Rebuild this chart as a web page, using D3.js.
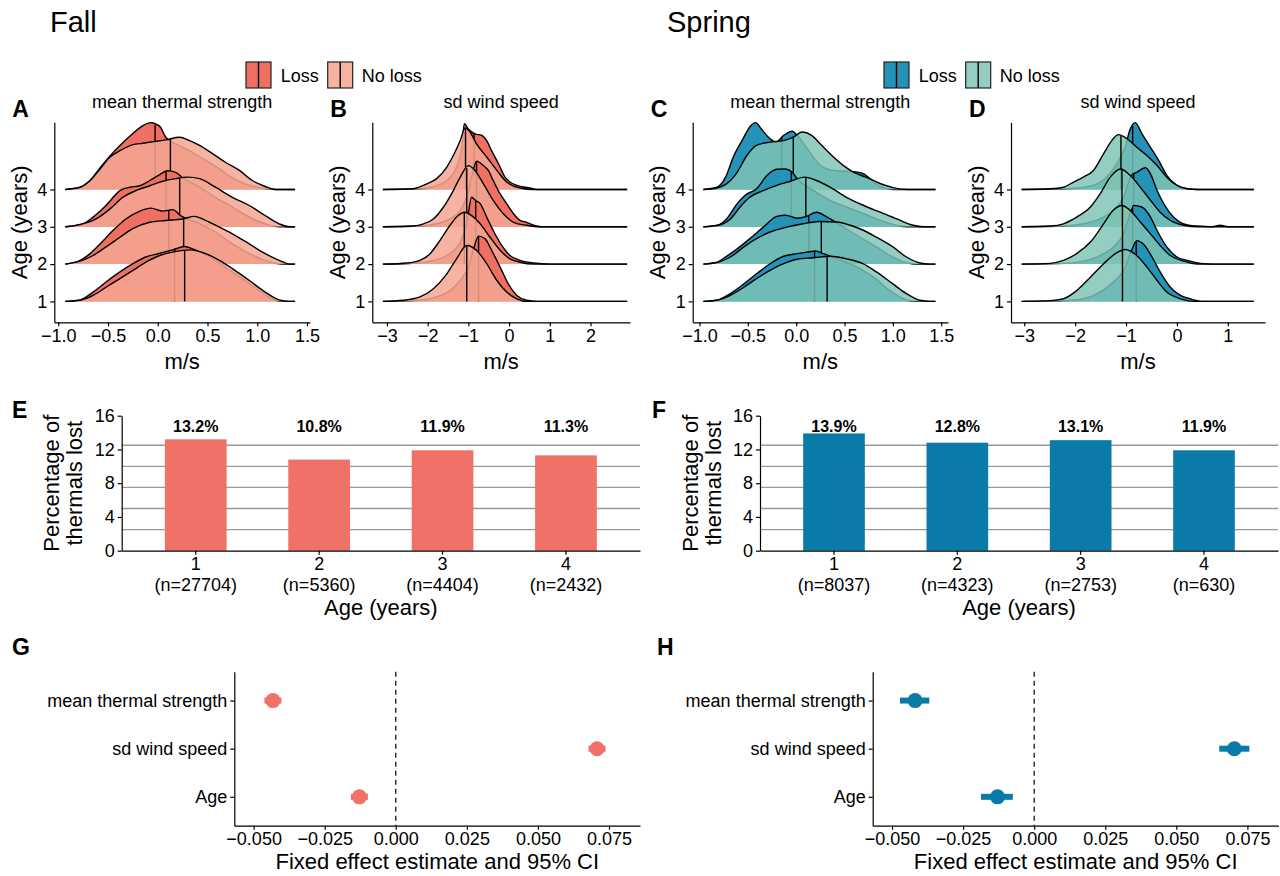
<!DOCTYPE html>
<html>
<head>
<meta charset="utf-8">
<script src="https://cdn.jsdelivr.net/npm/d3@7"></script>
<style>
  body { margin: 0; background: #fff; }
  text { font-family: "Liberation Sans", Arial, sans-serif; fill: #000; }
</style>
</head>
<body>
<svg id="fig" width="1280" height="876"></svg>
<script>
// ---- data -------------------------------------------------------------
const ages = [1, 2, 3, 4];
const groups = ["Loss", "No loss"];

// density curves: [m/s, ridge height], one list per age (1..4)
const fallThermLoss = [
  [[-0.93,0],[-0.78,.04],[-0.65,.25],[-0.52,.52],[-0.38,.79],[-0.25,1.01],[-0.12,1.19],[0.02,1.29],[0.15,1.38],[0.27,1.47],[0.35,1.41],[0.52,1.19],[0.68,.92],[0.85,.61],[1.02,.29],[1.15,.07],[1.25,0],[1.38,0]],
  [[-0.93,0],[-0.78,.1],[-0.68,.28],[-0.58,.54],[-0.45,.9],[-0.32,1.21],[-0.18,1.42],[-0.07,1.5],[0.05,1.42],[0.15,1.46],[0.23,1.3],[0.42,1.08],[0.58,.86],[0.75,.54],[0.92,.28],[1.08,.1],[1.25,0],[1.38,0]],
  [[-0.93,0],[-0.75,.08],[-0.65,.26],[-0.52,.57],[-0.38,.97],[-0.28,1.06],[-0.18,1.1],[-0.08,1.24],[0.02,1.4],[0.1,1.5],[0.18,1.46],[0.25,1.31],[0.42,1.06],[0.58,.79],[0.75,.53],[0.92,.26],[1.08,.08],[1.22,0],[1.38,0]],
  [[-0.93,0],[-0.78,.06],[-0.68,.24],[-0.58,.58],[-0.48,.9],[-0.38,1.18],[-0.25,1.5],[-0.15,1.71],[-0.07,1.79],[0.02,1.69],[0.08,1.4],[0.18,1.22],[0.32,1.04],[0.48,.78],[0.62,.55],[0.75,.31],[0.88,.15],[1.05,.04],[1.18,0],[1.38,0]]
];
const fallThermNoLoss = [
  [[-0.93,0],[-0.78,.03],[-0.65,.16],[-0.52,.38],[-0.38,.61],[-0.25,.83],[-0.12,1.05],[0.02,1.23],[0.15,1.32],[0.33,1.38],[0.48,1.28],[0.62,1.1],[0.75,.88],[0.92,.56],[1.08,.25],[1.22,.04],[1.32,0],[1.38,0]],
  [[-0.93,0],[-0.78,.08],[-0.65,.23],[-0.52,.46],[-0.38,.72],[-0.25,.95],[-0.08,1.12],[0.08,1.17],[0.25,1.21],[0.37,1.28],[0.48,1.17],[0.62,.99],[0.75,.81],[0.92,.54],[1.08,.28],[1.22,.1],[1.32,0],[1.38,0]],
  [[-0.93,0],[-0.78,.06],[-0.62,.21],[-0.48,.48],[-0.35,.79],[-0.22,.97],[-0.08,1.1],[0.05,1.22],[0.18,1.29],[0.3,1.33],[0.42,1.29],[0.58,1.06],[0.75,.79],[0.92,.57],[1.08,.3],[1.22,.08],[1.32,0],[1.38,0]],
  [[-0.93,0],[-0.78,.06],[-0.68,.24],[-0.58,.55],[-0.48,.87],[-0.38,1.04],[-0.25,1.2],[-0.15,1.24],[-0.02,1.29],[0.08,1.33],[0.22,1.4],[0.32,1.31],[0.42,1.18],[0.55,.96],[0.68,.73],[0.82,.51],[0.95,.24],[1.08,.08],[1.18,0],[1.38,0]]
];
const fallThermMedLoss = [0.17, 0.11, 0.083, -0.027];
const fallThermMedNoLoss = [0.27, 0.26, 0.22, 0.127];

const fallWindLoss = [
  [[-3.1,0],[-2.19,.03],[-1.78,.12],[-1.45,.29],[-1.2,.56],[-1.0,.92],[-0.88,1.37],[-0.75,1.75],[-0.59,1.68],[-0.43,1.37],[-0.22,.92],[-0.02,.47],[0.19,.16],[0.43,.03],[0.68,0],[2.9,0]],
  [[-3.1,0],[-2.2,.03],[-1.86,.1],[-1.53,.23],[-1.2,.59],[-1.04,1.08],[-0.92,1.79],[-0.82,1.7],[-0.71,1.62],[-0.55,1.26],[-0.39,.9],[-0.18,.5],[0.02,.23],[0.27,.1],[0.6,.03],[1.0,0],[2.9,0]],
  [[-3.1,0],[-2.2,.02],[-1.78,.08],[-1.45,.21],[-1.2,.44],[-1.04,.79],[-0.92,1.33],[-0.8,1.76],[-0.63,1.64],[-0.51,1.51],[-0.39,1.24],[-0.22,.88],[-0.06,.62],[0.11,.35],[0.27,.17],[0.43,.12],[0.6,.04],[0.8,0],[2.9,0]],
  [[-3.1,0],[-2.19,.02],[-1.78,.1],[-1.53,.24],[-1.29,.6],[-1.16,1.13],[-1.1,1.76],[-1.0,1.62],[-0.84,1.49],[-0.67,1.45],[-0.55,1.31],[-0.43,1.04],[-0.26,.69],[-0.1,.33],[0.02,.2],[0.19,.11],[0.52,.04],[0.68,0],[2.9,0]]
];
const fallWindNoLoss = [
  [[-3.1,0],[-2.6,.03],[-2.19,.12],[-1.86,.34],[-1.53,.74],[-1.29,1.14],[-1.04,1.5],[-0.8,1.37],[-0.55,1.01],[-0.3,.56],[-0.06,.25],[0.19,.07],[0.43,0],[2.9,0]],
  [[-3.1,0],[-2.5,.03],[-2.19,.1],[-1.94,.28],[-1.7,.63],[-1.45,1.04],[-1.25,1.3],[-1.1,1.39],[-0.92,1.3],[-0.71,1.08],[-0.47,.72],[-0.22,.37],[0.02,.14],[0.27,.05],[0.6,0],[2.9,0]],
  [[-3.1,0],[-2.35,.02],[-2.1,.08],[-1.86,.21],[-1.61,.53],[-1.37,.97],[-1.2,1.33],[-1.0,1.64],[-0.84,1.51],[-0.63,1.15],[-0.39,.71],[-0.14,.35],[0.11,.12],[0.43,.04],[0.76,0],[2.9,0]],
  [[-3.1,0],[-2.35,.02],[-2.02,.15],[-1.78,.29],[-1.53,.6],[-1.37,.91],[-1.2,1.31],[-1.08,1.65],[-0.96,1.54],[-0.8,1.22],[-0.55,.87],[-0.3,.51],[-0.06,.2],[0.27,.04],[0.6,0],[2.9,0]]
];
const fallWindMedLoss = [-0.75, -0.82, -0.8, -0.86];
const fallWindMedNoLoss = [-1.04, -1.1, -1.04, -1.07];

const springThermLoss = [
  [[-0.96,0],[-0.82,.03],[-0.68,.21],[-0.54,.47],[-0.41,.74],[-0.27,1.01],[-0.13,1.21],[0.01,1.28],[0.11,1.32],[0.2,1.35],[0.28,1.28],[0.46,1.1],[0.63,.92],[0.8,.65],[0.97,.29],[1.14,.04],[1.24,0],[1.44,0]],
  [[-0.96,0],[-0.82,.05],[-0.72,.21],[-0.61,.41],[-0.48,.68],[-0.34,.99],[-0.2,1.28],[-0.11,1.31],[0.01,1.23],[0.11,1.28],[0.21,1.39],[0.32,1.26],[0.49,.99],[0.66,.72],[0.83,.46],[1.0,.19],[1.14,.04],[1.24,0],[1.44,0]],
  [[-0.96,0],[-0.82,.04],[-0.72,.21],[-0.61,.62],[-0.53,.84],[-0.41,1.02],[-0.3,1.38],[-0.2,1.54],[-0.11,1.55],[-0.04,1.46],[0.01,1.29],[0.18,.97],[0.35,.71],[0.52,.53],[0.7,.35],[0.87,.17],[1.04,.04],[1.14,0],[1.44,0]],
  [[-0.96,0],[-0.82,.06],[-0.73,.33],[-0.65,.87],[-0.56,1.31],[-0.47,1.71],[-0.42,1.79],[-0.36,1.62],[-0.27,1.36],[-0.21,1.27],[-0.13,1.45],[-0.04,1.56],[0.01,1.45],[0.14,1.0],[0.25,.65],[0.39,.51],[0.52,.49],[0.62,.47],[0.7,.42],[0.78,.25],[0.87,.08],[1.0,0],[1.44,0]]
];
const springThermNoLoss = [
  [[-0.96,0],[-0.82,.03],[-0.68,.16],[-0.54,.38],[-0.41,.61],[-0.27,.83],[-0.13,1.01],[0.01,1.13],[0.18,1.17],[0.35,1.21],[0.52,1.14],[0.69,1.01],[0.83,.79],[1.0,.47],[1.14,.21],[1.28,.03],[1.38,0],[1.44,0]],
  [[-0.96,0],[-0.82,.04],[-0.68,.19],[-0.54,.46],[-0.41,.68],[-0.27,.86],[-0.1,.99],[0.07,1.08],[0.24,1.14],[0.42,1.13],[0.56,1.04],[0.7,.9],[0.83,.72],[1.0,.46],[1.14,.19],[1.28,.03],[1.38,0],[1.44,0]],
  [[-0.96,0],[-0.82,.03],[-0.68,.21],[-0.58,.53],[-0.48,.79],[-0.34,.97],[-0.2,1.11],[-0.06,1.22],[0.09,1.33],[0.21,1.24],[0.35,1.06],[0.52,.79],[0.7,.57],[0.87,.39],[1.04,.21],[1.21,.04],[1.31,0],[1.44,0]],
  [[-0.96,0],[-0.82,.04],[-0.72,.15],[-0.61,.46],[-0.51,.91],[-0.41,1.18],[-0.27,1.27],[-0.13,1.31],[-0.03,1.4],[0.06,1.54],[0.16,1.45],[0.25,1.22],[0.35,.96],[0.49,.64],[0.6,.45],[0.72,.33],[0.85,.18],[1.0,.05],[1.15,0],[1.44,0]]
];
const springThermMedLoss = [0.19, 0.13, -0.05, -0.15];
const springThermMedNoLoss = [0.32, 0.26, 0.1, -0.03];

const springWindLoss = [
  [[-3.05,0],[-2.2,.02],[-1.84,.07],[-1.51,.25],[-1.25,.52],[-1.05,.83],[-0.89,1.37],[-0.79,1.63],[-0.66,1.54],[-0.49,1.19],[-0.33,.79],[-0.13,.38],[0.07,.16],[0.26,.07],[0.52,0],[1.51,0]],
  [[-3.05,0],[-2.2,.02],[-1.84,.08],[-1.51,.23],[-1.25,.46],[-1.05,.81],[-0.92,1.35],[-0.85,1.57],[-0.69,1.53],[-0.52,1.26],[-0.39,.9],[-0.2,.46],[0,.19],[0.2,.1],[0.46,.02],[0.72,0],[1.51,0]],
  [[-3.05,0],[-2.2,.02],[-1.84,.08],[-1.51,.21],[-1.25,.44],[-1.05,.79],[-0.89,1.38],[-0.79,1.46],[-0.62,1.58],[-0.52,1.42],[-0.39,.97],[-0.26,.62],[-0.07,.26],[0.13,.08],[0.4,.02],[0.7,0],[0.85,.04],[1.0,0],[1.51,0]],
  [[-3.05,0],[-2.2,.02],[-1.84,.06],[-1.57,.15],[-1.38,.33],[-1.18,.69],[-1.02,1.13],[-0.92,1.61],[-0.82,1.79],[-0.69,1.5],[-0.52,1.13],[-0.36,.78],[-0.2,.38],[0,.11],[0.2,.02],[0.4,0],[1.51,0]]
];
const springWindNoLoss = [
  [[-3.05,0],[-2.49,.02],[-2.23,.07],[-1.97,.29],[-1.7,.65],[-1.44,1.01],[-1.21,1.28],[-1.02,1.39],[-0.79,1.23],[-0.59,.92],[-0.39,.56],[-0.2,.25],[0.07,.07],[0.33,0],[1.51,0]],
  [[-3.05,0],[-2.49,.02],[-2.23,.1],[-1.97,.28],[-1.7,.59],[-1.44,1.08],[-1.25,1.44],[-1.08,1.57],[-0.92,1.44],[-0.72,1.13],[-0.52,.81],[-0.33,.5],[-0.13,.23],[0.13,.08],[0.4,0],[1.51,0]],
  [[-3.05,0],[-2.49,.02],[-2.23,.08],[-1.97,.26],[-1.7,.53],[-1.51,.88],[-1.31,1.33],[-1.11,1.55],[-0.92,1.38],[-0.72,1.06],[-0.52,.71],[-0.33,.39],[-0.13,.17],[0.13,.04],[0.4,0],[1.51,0]],
  [[-3.05,0],[-2.49,.02],[-2.23,.06],[-2.03,.2],[-1.84,.33],[-1.64,.51],[-1.44,.96],[-1.28,1.31],[-1.15,1.47],[-0.98,1.36],[-0.79,1.13],[-0.59,.91],[-0.39,.64],[-0.2,.33],[0,.11],[0.2,.02],[0.4,0],[1.51,0]]
];
const springWindMedLoss = [-0.8, -0.87, -0.85, -0.87];
const springWindMedNoLoss = [-1.07, -1.07, -1.08, -1.1];

// percentage of thermals lost per age
const fallPct = [13.2, 10.8, 11.9, 11.3];
const fallN = [27704, 5360, 4404, 2432];
const springPct = [13.9, 12.8, 13.1, 11.9];
const springN = [8037, 4323, 2753, 630];
const pctTicks = [0, 4, 8, 12, 16];
const pctGrid = [2.5, 5, 7.5, 10, 12.5];

// fixed effects
const terms = ["mean thermal strength", "sd wind speed", "Age"];
const fallEst = [-0.0432, 0.0708, -0.0128];
const fallLo = [-0.0462, 0.0678, -0.0158];
const fallHi = [-0.0402, 0.0738, -0.0098];
const springEst = [-0.0419, 0.0704, -0.0129];
const springLo = [-0.0472, 0.0651, -0.0187];
const springHi = [-0.0369, 0.0757, -0.0075];
const effTicks = [-0.05, -0.025, 0, 0.025, 0.05, 0.075];

// ---- styling ------------------------------------------------------------
const FALL = { loss: "#EF6F63", noLoss: "#F4A793", alpha: 0.86, solid: "#F07167" };
const SPRING = { loss: "#2592B8", noLoss: "#7EC3B5", alpha: 0.83, solid: "#0A7BA8" };
const TICK_FS = 18, TITLE_FS = 22, LETTER_FS = 23;

const svg = d3.select("#fig");

function label(x, y, str, size, opts) {
  opts = opts || {};
  const t = svg.append("text")
    .attr("x", x).attr("y", y)
    .attr("font-size", size)
    .attr("text-anchor", opts.anchor || "start")
    .attr("font-weight", opts.bold ? "bold" : null)
    .text(str);
  return t;
}

function vlabel(cx, cy, str, size) {
  svg.append("text")
    .attr("transform", "translate(" + cx + "," + cy + ") rotate(-90)")
    .attr("dy", "0.35em")
    .attr("font-size", size)
    .attr("text-anchor", "middle")
    .text(str);
}

function styleAxis(sel) {
  sel.selectAll("path.domain").attr("stroke", "#000").attr("stroke-width", 1.2);
  sel.selectAll(".tick line").attr("stroke", "#000").attr("stroke-width", 1.2);
  sel.selectAll(".tick text")
    .attr("font-size", TICK_FS)
    .attr("font-family", '"Liberation Sans", Arial, sans-serif')
    .attr("fill", "#000");
}

// height of a density list at value v (linear between read points)
function heightAt(pts, v) {
  for (let i = 1; i < pts.length; i++) {
    if (v <= pts[i][0]) {
      const a = pts[i - 1], b = pts[i];
      return a[1] + (b[1] - a[1]) * (v - a[0]) / (b[0] - a[0]);
    }
  }
  return 0;
}

// ---- ridgeline panels -----------------------------------------------------
function ridgePanel(p) {
  const x = d3.scaleLinear().domain(p.xDomain).range(p.xRange);
  const y = d3.scaleLinear().domain([0.44, 5.8]).range([322.3, 122.3]);
  const g = svg.append("g");

  for (let a = 4; a >= 1; a--) {
    const layers = [
      { dens: p.loss[a - 1], med: p.medLoss[a - 1], fill: p.col.loss, op: 1 },
      { dens: p.noLoss[a - 1], med: p.medNoLoss[a - 1], fill: p.col.noLoss, op: p.col.alpha }
    ];
    layers.forEach(function (L) {
      const area = d3.area()
        .x(function (d) { return x(d[0]); })
        .y0(y(a))
        .y1(function (d) { return y(a + d[1]); })
        .curve(d3.curveMonotoneX);
      const line = d3.line()
        .x(function (d) { return x(d[0]); })
        .y(function (d) { return y(a + d[1]); })
        .curve(d3.curveMonotoneX);

      g.append("path").attr("d", area(L.dens))
        .attr("fill", L.fill).attr("fill-opacity", L.op);
      g.append("line")
        .attr("x1", x(L.med)).attr("x2", x(L.med))
        .attr("y1", y(a)).attr("y2", y(a + heightAt(L.dens, L.med)))
        .attr("stroke", "#000").attr("stroke-width", 1.4);
      g.append("path").attr("d", line(L.dens))
        .attr("fill", "none").attr("stroke", "#000").attr("stroke-width", 1.4)
        .attr("stroke-linejoin", "round");
    });
  }

  svg.append("g").attr("transform", "translate(0,322.3)")
    .call(d3.axisBottom(x).tickValues(p.ticks).tickFormat(p.fmt)
      .tickSize(4).tickPadding(3).tickSizeOuter(0))
    .call(styleAxis);
  svg.append("g").attr("transform", "translate(" + p.xRange[0] + ",0)")
    .call(d3.axisLeft(y).tickValues(ages).tickFormat(d3.format("d"))
      .tickSize(4).tickPadding(3).tickSizeOuter(0))
    .call(styleAxis);

  const cx = (p.xRange[0] + p.xRange[1]) / 2;
  label(cx, 108, p.title, 18, { anchor: "middle" });
  label(cx, 369, "m/s", TITLE_FS, { anchor: "middle" });
  vlabel(p.xRange[0] - 35, 222.3, "Age (years)", TITLE_FS);
  label(p.xRange[0] - 42, 117, p.letter, LETTER_FS, { bold: true });
}

ridgePanel({ letter: "A", title: "mean thermal strength", xDomain: [-1.04, 1.53], xRange: [54.3, 310],
  ticks: [-1, -0.5, 0, 0.5, 1, 1.5], fmt: d3.format(".1f"),
  loss: fallThermLoss, noLoss: fallThermNoLoss, medLoss: fallThermMedLoss, medNoLoss: fallThermMedNoLoss, col: FALL });
ridgePanel({ letter: "B", title: "sd wind speed", xDomain: [-3.36, 2.97], xRange: [372.3, 630],
  ticks: [-3, -2, -1, 0, 1, 2], fmt: d3.format("d"),
  loss: fallWindLoss, noLoss: fallWindNoLoss, medLoss: fallWindMedLoss, medNoLoss: fallWindMedNoLoss, col: FALL });
ridgePanel({ letter: "C", title: "mean thermal strength", xDomain: [-1.07, 1.57], xRange: [692.7, 948],
  ticks: [-1, -0.5, 0, 0.5, 1, 1.5], fmt: d3.format(".1f"),
  loss: springThermLoss, noLoss: springThermNoLoss, medLoss: springThermMedLoss, medNoLoss: springThermMedNoLoss, col: SPRING });
ridgePanel({ letter: "D", title: "sd wind speed", xDomain: [-3.26, 1.73], xRange: [1011, 1265],
  ticks: [-3, -2, -1, 0, 1], fmt: d3.format("d"),
  loss: springWindLoss, noLoss: springWindNoLoss, medLoss: springWindMedLoss, medNoLoss: springWindMedNoLoss, col: SPRING });

// ---- season titles and legends ---------------------------------------------
label(50, 32, "Fall", 29);
label(667, 32, "Spring", 29);

function legend(x0, col) {
  const keys = [
    { name: groups[0], fill: col.loss, op: 1, kx: x0, tx: x0 + 34.7 },
    { name: groups[1], fill: col.noLoss, op: col.alpha, kx: x0 + 81.7, tx: x0 + 115.7 }
  ];
  keys.forEach(function (k) {
    svg.append("rect").attr("x", k.kx).attr("y", 62).attr("width", 25).attr("height", 26)
      .attr("fill", k.fill).attr("fill-opacity", k.op)
      .attr("stroke", "#222").attr("stroke-width", 1.2);
    svg.append("line").attr("x1", k.kx + 12.5).attr("x2", k.kx + 12.5)
      .attr("y1", 62).attr("y2", 88).attr("stroke", "#000").attr("stroke-width", 1.4);
    label(k.tx, 81.5, k.name, 18);
  });
}
legend(246, FALL);
legend(884, SPRING);

// ---- bar panels -------------------------------------------------------------
function barPanel(p) {
  const x = d3.scaleBand().domain(ages).range([p.x0, p.x1]).paddingInner(0.5).paddingOuter(0.35);
  const y = d3.scaleLinear().domain([0, 16]).range([550.7, 415.7]);

  svg.append("g").selectAll("line").data(pctGrid).join("line")
    .attr("x1", p.x0).attr("x2", p.x1)
    .attr("y1", function (d) { return y(d); }).attr("y2", function (d) { return y(d); })
    .attr("stroke", "#999").attr("stroke-width", 1.4);

  svg.append("g").selectAll("rect").data(p.pct).join("rect")
    .attr("x", function (d, i) { return x(ages[i]); })
    .attr("width", x.bandwidth())
    .attr("y", function (d) { return y(d); })
    .attr("height", function (d) { return y(0) - y(d); })
    .attr("fill", p.col.solid);

  svg.append("g").selectAll("text").data(p.pct).join("text")
    .attr("x", function (d, i) { return x(ages[i]) + x.bandwidth() / 2; })
    .attr("y", y(14.04))
    .attr("text-anchor", "middle").attr("font-size", 16).attr("font-weight", "bold")
    .text(function (d) { return d.toFixed(1) + "%"; });

  const ax = svg.append("g").attr("transform", "translate(0,550.7)")
    .call(d3.axisBottom(x).tickSize(4).tickPadding(3).tickSizeOuter(0))
    .call(styleAxis);
  ax.selectAll(".tick text").text(null).each(function (d, i) {
    const t = d3.select(this);
    t.append("tspan").attr("x", 0).text(d);
    t.append("tspan").attr("x", 0).attr("dy", "1.15em").text("(n=" + p.n[i] + ")");
  });

  svg.append("g").attr("transform", "translate(" + p.x0 + ",0)")
    .call(d3.axisLeft(y).tickValues(pctTicks).tickSize(4).tickPadding(3).tickSizeOuter(0))
    .call(styleAxis);

  label((p.x0 + p.x1) / 2, 615, "Age (years)", TITLE_FS, { anchor: "middle" });
  vlabel(p.x0 - 70, 483.2, "Percentage of", TITLE_FS);
  vlabel(p.x0 - 47, 483.2, "thermals lost", TITLE_FS);
  label(p.lx, 418, p.letter, LETTER_FS, { bold: true });
}

barPanel({ letter: "E", lx: 12, x0: 121.7, x1: 640, pct: fallPct, n: fallN, col: FALL });
barPanel({ letter: "F", lx: 652, x0: 760, x1: 1278, pct: springPct, n: springN, col: SPRING });

// ---- fixed effect panels ------------------------------------------------------
function effectPanel(p) {
  const x = d3.scaleLinear().domain([-0.0568, 0.0859]).range([p.x0, p.x0 + 405.7]);
  const y = d3.scalePoint().domain(terms).range([671.7, 825.7]).padding(0.6);

  svg.append("line")
    .attr("x1", x(0)).attr("x2", x(0)).attr("y1", 671.7).attr("y2", 825.7)
    .attr("stroke", "#000").attr("stroke-width", 1.2).attr("stroke-dasharray", "5,4");

  svg.append("g").selectAll("line").data(terms).join("line")
    .attr("x1", function (d, i) { return x(p.lo[i]); })
    .attr("x2", function (d, i) { return x(p.hi[i]); })
    .attr("y1", function (d) { return y(d); }).attr("y2", function (d) { return y(d); })
    .attr("stroke", p.col.solid).attr("stroke-width", 6);

  svg.append("g").selectAll("circle").data(terms).join("circle")
    .attr("cx", function (d, i) { return x(p.est[i]); })
    .attr("cy", function (d) { return y(d); })
    .attr("r", 7.5).attr("fill", p.col.solid);

  svg.append("g").attr("transform", "translate(0,825.7)")
    .call(d3.axisBottom(x).tickValues(effTicks).tickFormat(d3.format(".3f"))
      .tickSize(4).tickPadding(3).tickSizeOuter(0))
    .call(styleAxis);
  svg.append("g").attr("transform", "translate(" + p.x0 + ",0)")
    .call(d3.axisLeft(y).tickSize(4).tickPadding(3).tickSizeOuter(0))
    .call(styleAxis);

  label(p.x0 + 203, 869, "Fixed effect estimate and 95% CI", TITLE_FS, { anchor: "middle" });
  label(p.lx, 655, p.letter, LETTER_FS, { bold: true });
}

effectPanel({ letter: "G", lx: 12, x0: 234.3, est: fallEst, lo: fallLo, hi: fallHi, col: FALL });
effectPanel({ letter: "H", lx: 657, x0: 872.7, est: springEst, lo: springLo, hi: springHi, col: SPRING });
</script>
</body>
</html>
